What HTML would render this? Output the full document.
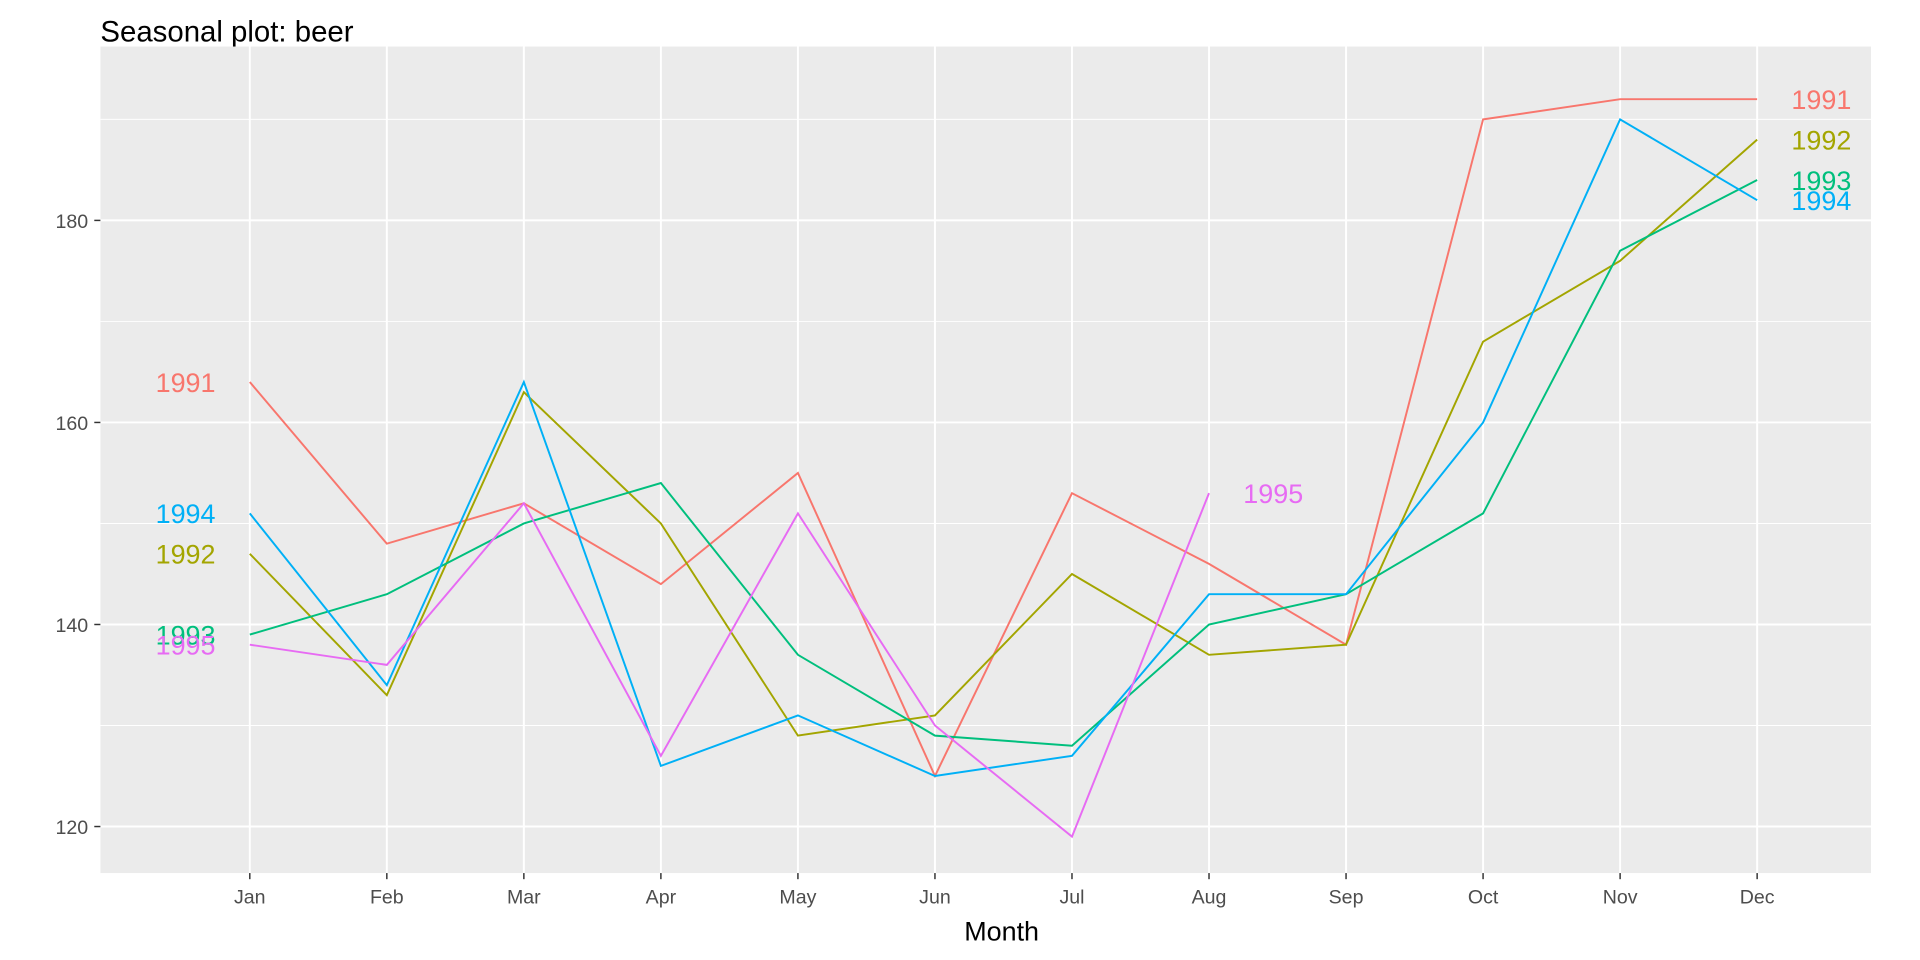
<!DOCTYPE html>
<html><head><meta charset="utf-8"><style>
body{margin:0;background:#fff;font-family:"Liberation Sans",sans-serif;}
svg{display:block;}
</style></head><body>
<svg id="chart" width="1920" height="960" viewBox="0 0 1568 784" preserveAspectRatio="none" xmlns="http://www.w3.org/2000/svg">
<rect width="1568" height="784" fill="#fff"/>
<text x="82" y="34" font-size="24" fill="#000">Seasonal plot: beer</text>
<rect x="82" y="38" width="1446" height="675" fill="#ebebeb"/>
<g id="grid"></g><g id="series"></g><g id="axes"></g>
<text x="818" y="768" font-size="22" text-anchor="middle" fill="#000">Month</text>
</svg>
<script>
const months=["Jan","Feb","Mar","Apr","May","Jun","Jul","Aug","Sep","Oct","Nov","Dec"];
const years=["1991","1992","1993","1994","1995"];
const colors=["#F8766D","#A3A500","#00BF7D","#00B0F6","#E76BF3"];
const v1991=[164,148,152,144,155,125,153,146,138,190,192,192];
const v1992=[147,133,163,150,129,131,145,137,138,168,176,188];
const v1993=[139,143,150,154,137,129,128,140,143,151,177,184];
const v1994=[151,134,164,126,131,125,127,143,143,160,190,182];
const v1995=[138,136,152,127,151,130,119,153];
const yTicks=[120,140,160,180];
const yMinor=[130,150,170,190];
const values=[v1991,v1992,v1993,v1994,v1995];
const NS="http://www.w3.org/2000/svg";
const x=i=>204+i*(1435-204)/11;
const y=v=>675-(v-120)*8.25;
function mk(tag,attrs,parent){const e=document.createElementNS(NS,tag);for(const k in attrs)e.setAttribute(k,attrs[k]);parent.appendChild(e);return e;}
const grid=document.getElementById('grid'),ser=document.getElementById('series'),ax=document.getElementById('axes');
yMinor.forEach(t=>{const l=mk('line',{x1:82,x2:1528,y1:y(t),y2:y(t),stroke:'#fff','stroke-width':0.8},grid);

});
yTicks.forEach(t=>{const l=mk('line',{x1:82,x2:1528,y1:y(t),y2:y(t),stroke:'#fff','stroke-width':1.6},grid);


mk('line',{x1:77,x2:82,y1:y(t),y2:y(t),stroke:'#333','stroke-width':1.2},ax);
const tx=mk('text',{x:72,y:y(t)+6,'font-size':16,'text-anchor':'end',fill:'#4d4d4d'},ax);tx.textContent=t;

});
months.forEach((m,i)=>{const l=mk('line',{x1:x(i),x2:x(i),y1:38,y2:713,stroke:'#fff','stroke-width':1.6},grid);


mk('line',{x1:x(i),x2:x(i),y1:713,y2:718,stroke:'#333','stroke-width':1.2},ax);
const tx=mk('text',{x:x(i),y:738,'font-size':16,'text-anchor':'middle',fill:'#4d4d4d'},ax);tx.textContent=m;

});
values.forEach((vals,k)=>{
const p=mk('polyline',{points:vals.map((v,i)=>x(i)+','+y(v)).join(' '),fill:'none',stroke:colors[k],'stroke-width':1.6},ser);


const a=mk('text',{x:x(0)-28,y:y(vals[0])+8,'font-size':22,'text-anchor':'end',fill:colors[k]},ser);a.textContent=years[k];


const n=vals.length-1;
const b=mk('text',{x:x(n)+28,y:y(vals[n])+8,'font-size':22,'text-anchor':'start',fill:colors[k]},ser);b.textContent=years[k];


});
</script>
</body></html>
